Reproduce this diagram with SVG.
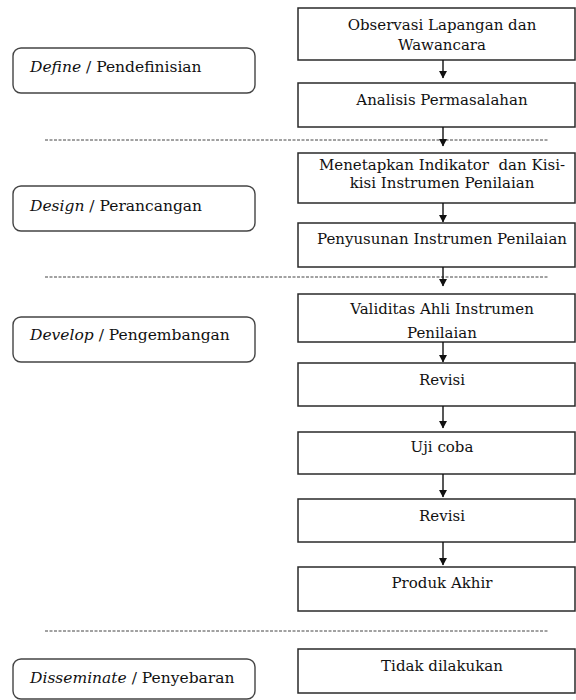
<svg xmlns="http://www.w3.org/2000/svg" width="576" height="700" viewBox="0 0 576 700">
<defs>
<marker id="ah" markerWidth="9" markerHeight="9" refX="7" refY="4.5" orient="auto" markerUnits="userSpaceOnUse">
<path d="M0,0.5 L7.5,4.5 L0,8.5 Z" fill="#111"/>
</marker>
<style>
.box{fill:#fff;stroke:#2a2a2a;stroke-width:1.5}
.phase{fill:#fff;stroke:#444;stroke-width:1.4}
.t{font-family:"DejaVu Serif","Liberation Serif",serif;font-size:15px;fill:#111;text-anchor:middle}
.lt{font-family:"DejaVu Serif","Liberation Serif",serif;font-size:15.5px;fill:#111}
.it{font-style:italic}
.dash{stroke:#444;stroke-width:1;stroke-dasharray:3 1.5;fill:none}
.con{stroke:#111;stroke-width:1.4;fill:none;marker-end:url(#ah)}
</style>
</defs>
<rect width="576" height="700" fill="#fff"/>
<g id="separators">
<line class="dash" x1="45" y1="140" x2="548" y2="140"/>
<line class="dash" x1="45" y1="277" x2="548" y2="277"/>
<line class="dash" x1="45" y1="631" x2="548" y2="631"/>
</g>
<g id="phase-define"><rect class="phase" x="13" y="48" width="242" height="45" rx="8"/><text class="lt" x="30" y="72"><tspan class="it">Define</tspan> / Pendefinisian</text></g>
<g id="phase-design"><rect class="phase" x="13" y="186" width="242" height="45" rx="8"/><text class="lt" x="30" y="211"><tspan class="it">Design</tspan> / Perancangan</text></g>
<g id="phase-develop"><rect class="phase" x="13" y="317" width="242" height="45" rx="8"/><text class="lt" x="30" y="340"><tspan class="it">Develop</tspan> / Pengembangan</text></g>
<g id="phase-disseminate"><rect class="phase" x="13" y="659" width="242" height="40" rx="8"/><text class="lt" x="30" y="683"><tspan class="it">Disseminate</tspan> / Penyebaran</text></g>
<g id="n1"><rect class="box" x="298" y="8" width="277" height="52"/><text class="t" x="442" y="30">Observasi Lapangan dan</text><text class="t" x="442" y="50">Wawancara</text></g>
<g id="n2"><rect class="box" x="298" y="83" width="277" height="44"/><text class="t" x="442" y="105">Analisis Permasalahan</text></g>
<g id="n3"><rect class="box" x="298" y="153" width="277" height="50"/><text class="t" x="442" y="170" xml:space="preserve">Menetapkan Indikator  dan Kisi-</text><text class="t" x="442" y="188">kisi Instrumen Penilaian</text></g>
<g id="n4"><rect class="box" x="298" y="223" width="277" height="44"/><text class="t" x="442" y="244">Penyusunan Instrumen Penilaian</text></g>
<g id="n5"><rect class="box" x="298" y="294" width="277" height="48"/><text class="t" x="442" y="314">Validitas Ahli Instrumen</text><text class="t" x="442" y="338">Penilaian</text></g>
<g id="n6"><rect class="box" x="298" y="363" width="277" height="43"/><text class="t" x="442" y="385">Revisi</text></g>
<g id="n7"><rect class="box" x="298" y="432" width="277" height="42"/><text class="t" x="442" y="452">Uji coba</text></g>
<g id="n8"><rect class="box" x="298" y="499" width="277" height="43"/><text class="t" x="442" y="521">Revisi</text></g>
<g id="n9"><rect class="box" x="298" y="567" width="277" height="44"/><text class="t" x="442" y="588">Produk Akhir</text></g>
<g id="n10"><rect class="box" x="298" y="649" width="277" height="44"/><text class="t" x="442" y="671">Tidak dilakukan</text></g>
<g id="connectors">
<line class="con" x1="443" y1="60" x2="443" y2="78"/>
<line class="con" x1="443" y1="127" x2="443" y2="146"/>
<line class="con" x1="443" y1="203" x2="443" y2="222"/>
<line class="con" x1="443" y1="267" x2="443" y2="286"/>
<line class="con" x1="443" y1="342" x2="443" y2="362"/>
<line class="con" x1="443" y1="406" x2="443" y2="428"/>
<line class="con" x1="443" y1="474" x2="443" y2="497"/>
<line class="con" x1="443" y1="542" x2="443" y2="565"/>
</g>
</svg>
